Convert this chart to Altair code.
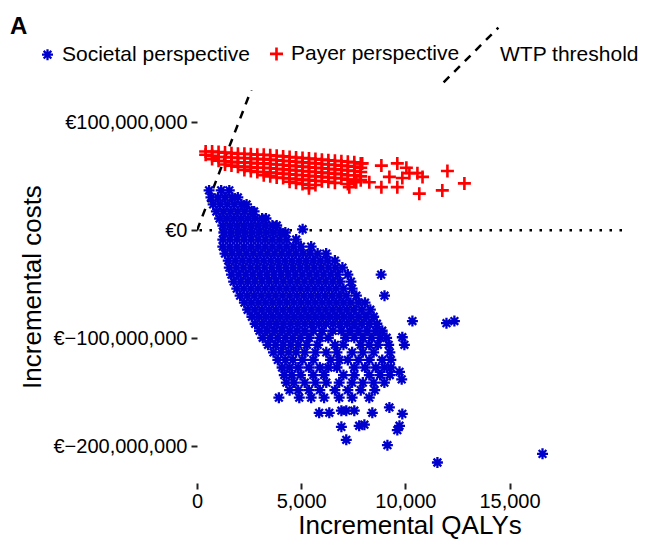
import altair as alt
import pandas as pd

SOC = "Societal perspective"
PAY = "Payer perspective"
WTP_LABEL = "WTP threshold"
BLUE = "#0000CC"
RED = "#FF0000"

# Societal perspective: incremental costs (million EUR) -> incremental QALYs read along rows
soc_rows = {
    37: [580, 1160, 1550],
    30.5: [670, 1010, 1350, 1690, 1960],
    24: [775, 1115, 1455, 1795, 2135, 2380],
    17.5: [930, 1270, 1610, 1950, 2290, 2630, 2740],
    11: [1085, 1425, 1765, 2105, 2445, 2785, 3125, 3310],
    4.5: [1240, 1580, 1920, 2260, 2600, 2940, 3280, 3620, 3825],
    1: [5070],
    -2: [1290, 1630, 1970, 2310, 2650, 2990, 3330, 3670, 4010, 4240],
    -8.5: [1240, 1580, 1920, 2260, 2600, 2940, 3280, 3620, 3960, 4300, 4760],
    -15: [1240, 1580, 1920, 2260, 2600, 2940, 3280, 3620, 3960, 4300, 4640, 4990, 5480],
    -21.5: [1345, 1685, 2025, 2365, 2705, 3045, 3385, 3725, 4065, 4405, 4745, 5085, 5425, 5790, 6200],
    -28: [1500, 1840, 2180, 2520, 2860, 3200, 3540, 3880, 4220, 4560, 4900, 5240, 5580, 5920, 6260, 6620],
    -34.5: [1550, 1890, 2230, 2570, 2910, 3250, 3590, 3930, 4270, 4610, 4950, 5290, 5630, 5970, 6310, 6650, 6980],
    -41: [1655, 1995, 2335, 2675, 3015, 3355, 3695, 4035, 4375, 4715, 5055, 5395, 5735, 6075, 6415, 6755, 7240, 8840],
    -47.5: [1760, 2100, 2440, 2780, 3120, 3460, 3800, 4140, 4480, 4820, 5160, 5500, 5840, 6180, 6520, 6860, 7390],
    -54: [1910, 2250, 2590, 2930, 3270, 3610, 3950, 4290, 4630, 4970, 5310, 5650, 5990, 6330, 6670, 7030, 7445],
    -60.5: [2070, 2410, 2750, 3090, 3430, 3770, 4110, 4450, 4790, 5130, 5470, 5810, 6150, 6490, 6830, 7170, 7650, 9000],
    -67: [2275, 2615, 2955, 3295, 3635, 3975, 4315, 4655, 4995, 5335, 5675, 6015, 6355, 6695, 7035, 7375, 7750, 8065],
    -73.5: [2430, 2770, 3110, 3450, 3790, 4130, 4470, 4810, 5150, 5490, 5830, 6170, 6510, 6850, 7190, 7530, 7910, 8320],
    -80: [2635, 2975, 3315, 3655, 3995, 4335, 4675, 5015, 5355, 5695, 6035, 6375, 6715, 7055, 7395, 7755, 8120, 8480],
    -86.5: [2790, 3130, 3470, 3810, 4150, 4490, 4830, 5170, 5510, 5850, 6190, 6530, 6870, 7210, 7550, 7910, 8270, 8635],
    -93: [3000, 3360, 3720, 4085, 4445, 4810, 5170, 5585, 6000, 6515, 6930, 7340, 7755, 8170, 8580, 8890],
    -99.5: [3155, 3515, 3880, 4240, 4600, 4965, 5375, 5895, 6305, 7135, 7550, 7960, 8375, 8790, 9100],
    -106: [3410, 3775, 4135, 4500, 4860, 5275, 5790, 6620, 7030, 7860, 8270, 8685, 9200],
    -113: [3670, 4035, 4395, 4755, 5170, 5685, 6205, 6720, 7445, 7960, 8480, 9255],
    -120: [3880, 4240, 4600, 5065, 5585, 6410, 6825, 7240, 7755, 8270, 8890, 9305],
    -127: [4085, 4445, 4860, 5375, 5895, 6305, 6720, 7550, 8065, 8580, 8995, 9305],
    -134: [4190, 4550, 4965, 5585, 6100, 7030, 7550, 8270, 8790, 9255],
    -141: [4290, 4655, 5170, 5685, 6205, 6825, 7445, 7960, 8480, 8995],
    -148: [4445, 4860, 5375, 5895, 6620, 7240, 7860, 8530],
    -155: [3930, 4910, 5480, 6100, 6825, 7445, 8270],
}
soc_out_qaly = [10340, 11975, 12355, 9855, 9955, 9720, 9825, 5865, 6350, 6930, 7165, 7550,
                8415, 9235, 9855, 6930, 7785, 8035, 9615, 9720, 7165, 9140, 11540, 16585]
soc_out_cost = [-84, -86, -84, -99, -106, -131, -138, -169, -169, -167, -167, -167,
                -169, -164, -170, -182, -181, -180, -185, -181, -194, -199, -215, -207]

# Payer perspective: incremental QALYs -> incremental costs (million EUR) read along columns
pay_cols = {
    415: [73, 70],
    725: [73, 69, 66],
    1035: [72.5, 68, 64.5],
    1345: [72, 68, 64, 61],
    1655: [71.5, 67.5, 63.5, 60],
    1965: [71, 67, 63, 59],
    2275: [71, 67, 63, 59, 56],
    2585: [70.5, 66.5, 62.5, 58.5, 55],
    2895: [70, 66, 62, 58, 54],
    3205: [70, 66, 62, 58, 54, 51],
    3515: [69.5, 65.5, 61.5, 57.5, 53.5, 50],
    3825: [69, 65, 61, 57, 53, 49],
    4135: [68.5, 64.5, 60.5, 56.5, 52.5, 48.5],
    4445: [68, 64, 60, 56, 52, 48, 45],
    4755: [67.5, 63.5, 59.5, 55.5, 51.5, 47.5, 44],
    5065: [67, 63, 59, 55, 51, 47, 43],
    5375: [66.5, 62.5, 58.5, 54.5, 50.5, 46.5, 42, 39],
    5685: [66, 62, 58, 54, 50, 46, 42],
    5995: [65.5, 61.5, 57.5, 53.5, 49.5, 45.5],
    6305: [65, 61, 57, 53, 49, 45],
    6620: [64.5, 60.5, 56.5, 52.5, 48.5, 44],
    6930: [64, 60, 56, 52, 48],
    7240: [63.5, 59.5, 55.5, 51, 47, 43],
    7550: [63, 59, 55, 51, 47],
    7860: [62, 58, 54, 50, 46.5],
}
pay_out_qaly = [7930, 8850, 9615, 10050, 10580, 10825, 12020, 12835, 10670, 11775, 9615, 8850,
                8270, 7640, 7310, 9235, 9855, 10195]
pay_out_cost = [62, 60, 62, 58, 53, 49.5, 55, 43.5, 34, 37, 40, 40,
                44.5, 44.5, 40, 49.5, 48.5, 53]

WTP = 50000  # EUR per QALY
wtp_qaly = [0, 20400]

AST = "M-1,0L1,0M0,-1L0,1M-0.7,-0.7L0.7,0.7M-0.7,0.7L0.7,-0.7"
PLUS = "M-1,0L1,0M0,-1L0,1"

recs = []
for c, xs in soc_rows.items():
    for q in xs:
        recs.append({"qaly": q, "cost": c * 1e6, "group": SOC})
for q, c in zip(soc_out_qaly, soc_out_cost):
    recs.append({"qaly": q, "cost": c * 1e6, "group": SOC})
for q, cs in pay_cols.items():
    for c in cs:
        recs.append({"qaly": q, "cost": c * 1e6, "group": PAY})
for q, c in zip(pay_out_qaly, pay_out_cost):
    recs.append({"qaly": q, "cost": c * 1e6, "group": PAY})
pts = pd.DataFrame(recs)

line_df = pd.DataFrame({"qaly": wtp_qaly, "cost": [q * WTP for q in wtp_qaly], "lbl": WTP_LABEL})
zero_df = pd.DataFrame({"cost": [0]})

FONT = "Liberation Sans"
xscale = alt.Scale(domain=[0, 20400], nice=False, zero=False)
yscale = alt.Scale(domain=[-234e6, 130e6], nice=False, zero=False)

xaxis = alt.Axis(values=[0, 5000, 10000, 15000], labelExpr="format(datum.value, ',')",
                 title="Incremental QALYs",
                 titleFontSize=26, labelFontSize=20, tickSize=6, tickWidth=2, tickColor="#222222",
                 domain=False, grid=False, labelColor="black", titleColor="black",
                 labelPadding=2, titlePadding=1, titleFontWeight="normal", labelFlush=False)
yaxis = alt.Axis(values=[-200e6, -100e6, 0, 100e6],
                 labelExpr="datum.value < 0 ? '€−' + format(-datum.value, ',') : '€' + format(datum.value, ',')",
                 title="Incremental costs", titleFontSize=26, labelFontSize=20, tickSize=6,
                 tickWidth=2, tickColor="#222222", domain=False, grid=False, labelColor="black",
                 titleColor="black", labelPadding=4, titlePadding=7, titleFontWeight="normal")

pt_legend = alt.Legend(title=None, orient="none", legendX=-160, legendY=-47, direction="horizontal",
                       labelFontSize=21, labelColor="black", symbolSize=130, symbolStrokeWidth=1.8,
                       columnPadding=14, labelOffset=4, labelLimit=0)

points = alt.Chart(pts).mark_point(filled=False, opacity=1).encode(
    x=alt.X("qaly:Q", scale=xscale, axis=xaxis),
    y=alt.Y("cost:Q", scale=yscale, axis=yaxis),
    color=alt.Color("group:N", scale=alt.Scale(domain=[SOC, PAY], range=[BLUE, RED]), legend=pt_legend),
    shape=alt.Shape("group:N", scale=alt.Scale(domain=[SOC, PAY], range=[AST, PLUS]), legend=pt_legend),
    size=alt.Size("group:N", scale=alt.Scale(domain=[SOC, PAY], range=[121, 169]), legend=None),
    strokeWidth=alt.StrokeWidth("group:N", scale=alt.Scale(domain=[SOC, PAY], range=[2.3, 2.6]), legend=None),
)

zero = alt.Chart(zero_df).mark_rule(color="black", strokeWidth=2.5, strokeDash=[2.5, 7.5]).encode(
    y=alt.Y("cost:Q", scale=yscale)
)

wtp_line = alt.Chart(line_df).mark_line(color="black", strokeWidth=2.5, clip=True).encode(
    x=alt.X("qaly:Q", scale=xscale),
    y=alt.Y("cost:Q", scale=yscale),
    strokeDash=alt.StrokeDash("lbl:N", scale=alt.Scale(domain=[WTP_LABEL], range=[[8, 7]]),
                              legend=alt.Legend(title=None, orient="none", legendX=245, legendY=-64,
                                                symbolType="M-1,1L1,-1", symbolSize=3000,
                                                symbolStrokeWidth=2.5, symbolStrokeColor="black",
                                                labelFontSize=21, labelColor="black", labelOffset=0,
                                                labelLimit=0)),
)

chart = alt.layer(zero, wtp_line, points).properties(
    width=425, height=393,
    title=alt.TitleParams("A", anchor="start", frame="group", fontSize=24, fontWeight="bold",
                          color="black", dx=-187, dy=17),
    autosize=alt.AutoSizeParams(type="none"),
    padding={"left": 189, "top": 82, "right": 16, "bottom": 56},
).configure(font=FONT).configure_view(stroke=None)

chart.save("out.html", embed_options={"renderer": "svg", "actions": False})
